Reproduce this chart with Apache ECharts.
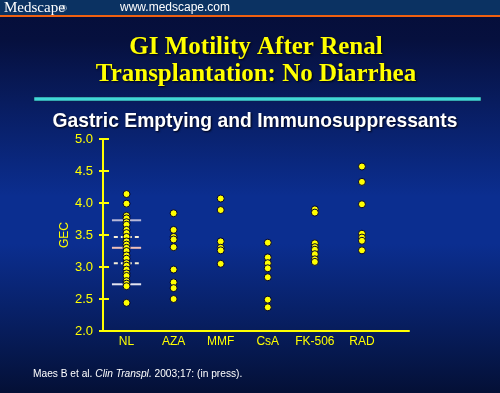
<!DOCTYPE html>
<html><head><meta charset="utf-8">
<script src="https://cdn.jsdelivr.net/npm/echarts@6/dist/echarts.min.js"></script>
<style>html,body{margin:0;padding:0;background:#06103e}#c{width:500px;height:393px}</style>
</head><body><div id="c"></div>
<script>
const categories = ['NL', 'AZA', 'MMF', 'CsA', 'FK-506', 'RAD'];
const yTicks = ['2.0', '2.5', '3.0', '3.5', '4.0', '4.5', '5.0'];
const valuesNL = [4.14, 3.99, 3.80, 3.76, 3.70, 3.66, 3.58, 3.53, 3.47, 3.40, 3.35, 3.30, 3.25, 3.18, 3.13, 3.06, 3.02, 2.96, 2.90, 2.86, 2.78, 2.74, 2.70, 2.44];
const valuesAZA = [3.84, 3.58, 3.47, 3.43, 3.31, 2.96, 2.76, 2.67, 2.50];
const valuesMMF = [4.07, 3.89, 3.40, 3.30, 3.26, 3.05];
const valuesCsA = [3.38, 3.15, 3.06, 2.98, 2.84, 2.49, 2.37];
const valuesFK506 = [3.90, 3.85, 3.37, 3.31, 3.27, 3.20, 3.12, 3.08];
const valuesRAD = [4.57, 4.33, 3.98, 3.52, 3.46, 3.41, 3.26];
const nlSolidLines = [3.73, 3.30, 2.73];
const nlDashedLines = [3.47, 3.06];

const groups = [valuesNL, valuesAZA, valuesMMF, valuesCsA, valuesFK506, valuesRAD];
const points = [];
groups.forEach((vals, i) => vals.forEach(v => points.push([i + 1, v])));

const solidColors = ['#b8b8d8', '#f0c0b8', '#e4e4f0'];
const lineSeries = [];
nlSolidLines.forEach((v, i) => lineSeries.push({
  type: 'line', symbol: 'none', silent: true, z: 1,
  data: [[0.69, v], [1.31, v]],
  lineStyle: { color: solidColors[i], width: 2 }
}));
nlDashedLines.forEach(v => lineSeries.push({
  type: 'line', symbol: 'none', silent: true, z: 1,
  data: [[0.73, v], [1.26, v]],
  lineStyle: { color: '#f8f0d8', width: 2, type: [4, 3] }
}));

const chart = echarts.init(document.getElementById('c'));
const yel = '#ffff00';
chart.setOption({
  animation: false,
  backgroundColor: {
    type: 'linear', x: 0, y: 0, x2: 0, y2: 1,
    colorStops: [
      { offset: 0, color: '#050d38' },
      { offset: 0.1, color: '#06103e' },
      { offset: 0.5, color: '#0b2e90' },
      { offset: 0.62, color: '#0b2e90' },
      { offset: 1, color: '#041036' }
    ]
  },
  graphic: [
    { type: 'rect', shape: { x: 0, y: 0, width: 500, height: 15 }, style: { fill: '#0b3262' }, z: 10 },
    { type: 'rect', shape: { x: 0, y: 15, width: 500, height: 2 }, style: { fill: '#f06010' }, z: 10 },
    { type: 'text', x: 4, y: 8, z: 11, style: { text: 'Medscape', fill: '#fff', font: '15px "Liberation Serif"', textVerticalAlign: 'middle' } },
    { type: 'text', x: 61, y: 9, z: 11, style: { text: '®', fill: '#fff', font: '8px "Liberation Sans"', textVerticalAlign: 'middle' } },
    { type: 'text', x: 120, y: 8, z: 11, style: { text: 'www.medscape.com', fill: '#fff', font: '12px "Liberation Sans"', textVerticalAlign: 'middle' } },
    { type: 'text', x: 256, y: 48, z: 11, style: { text: 'GI Motility After Renal', fill: '#ffff00', font: 'bold 25px "Liberation Serif"', textAlign: 'center', textVerticalAlign: 'middle', textShadowColor: '#000010', textShadowBlur: 2, textShadowOffsetX: 1, textShadowOffsetY: 1 } },
    { type: 'text', x: 256, y: 75, z: 11, style: { text: 'Transplantation: No Diarrhea', fill: '#ffff00', font: 'bold 25px "Liberation Serif"', textAlign: 'center', textVerticalAlign: 'middle', textShadowColor: '#000010', textShadowBlur: 2, textShadowOffsetX: 1, textShadowOffsetY: 1 } },
    { type: 'rect', shape: { x: 34, y: 97, width: 447, height: 4 }, style: { fill: '#40d8d8', stroke: '#102040', lineWidth: 0.5 }, z: 10 },
    { type: 'text', x: 255, y: 122, z: 11, style: { text: 'Gastric Emptying and Immunosuppressants', fill: '#ffffff', font: 'bold 19.3px "Liberation Sans"', textAlign: 'center', textVerticalAlign: 'middle', textShadowColor: '#000010', textShadowBlur: 2, textShadowOffsetX: 1, textShadowOffsetY: 1 } },
    { type: 'text', x: 33, y: 374, z: 11, style: { rich: { i: { font: 'italic 10.2px "Liberation Sans"', fill: '#fff' }, n: { font: '10.2px "Liberation Sans"', fill: '#fff' } }, text: '{n|Maes B et al. }{i|Clin Transpl.}{n| 2003;17: (in press).}', textVerticalAlign: 'middle' } }
  ],
  grid: { left: 103, top: 139, width: 306, height: 192 },
  xAxis: {
    type: 'value', min: 0.5, max: 7, interval: 0.5,
    splitLine: { show: false },
    axisTick: { show: false },
    axisLine: { lineStyle: { color: yel, width: 2 } },
    axisLabel: {
      color: yel, fontSize: 12, fontFamily: 'Liberation Sans', margin: 5, showMinLabel: true, showMaxLabel: true,
      formatter: v => { const r = Math.round(v); return (Math.abs(v - r) < 1e-6 && r >= 1 && r <= categories.length) ? categories[r - 1] : ''; }
    }
  },
  yAxis: [{
    type: 'value', min: 2, max: 5, interval: 0.5,
    name: 'GEC', nameLocation: 'middle', nameGap: 32, nameRotate: 90, nameMoveOverlap: false,
    nameTextStyle: { color: yel, fontSize: 12, fontFamily: 'Liberation Sans' },
    splitLine: { show: false },
    axisLine: { lineStyle: { color: yel, width: 2 } },
    axisTick: { inside: true, length: 6, lineStyle: { color: yel, width: 2 } },
    axisLabel: { color: yel, fontSize: 13, fontFamily: 'Liberation Sans', margin: 10,
      formatter: v => yTicks[Math.round((v - 2) / 0.5)] }
  }, {
    type: 'value', min: 2, max: 5, interval: 0.5, position: 'left',
    splitLine: { show: false },
    axisLine: { show: false },
    axisTick: { length: 4, lineStyle: { color: yel, width: 2 } },
    axisLabel: { show: false }
  }],
  series: lineSeries.concat([{
    type: 'scatter', z: 3,
    data: points,
    symbolSize: 7,
    itemStyle: { color: '#ffff00', borderColor: '#000030', borderWidth: 1, opacity: 1 }
  }])
});
</script></body></html>
